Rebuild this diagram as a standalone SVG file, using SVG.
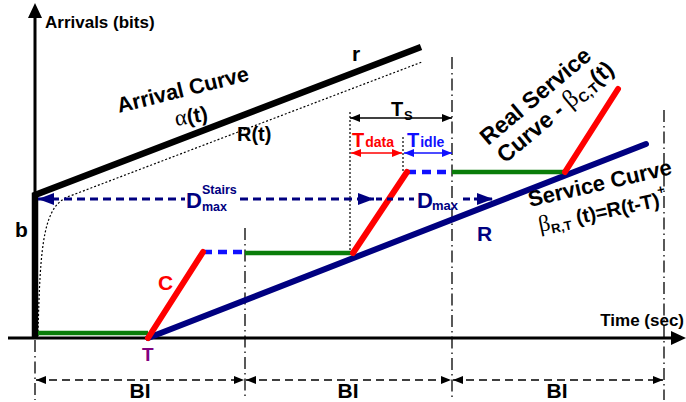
<svg xmlns="http://www.w3.org/2000/svg" width="686" height="402" viewBox="0 0 686 402">
<style>
text{font-family:"Liberation Sans",Arial,sans-serif;font-weight:bold;fill:#000}
.g{font-family:"Liberation Serif","Times New Roman",serif;font-weight:normal}
.dd{fill:none;stroke:#000;stroke-width:1.3;stroke-dasharray:12,4,1.5,4}
.dot{fill:none;stroke:#000;stroke-width:1.2;stroke-dasharray:2,2}
.bi{fill:none;stroke:#000;stroke-width:1.6;stroke-dasharray:8,5}
.nv{fill:#000080}
</style>
<defs>
<marker id="ak" viewBox="0 0 10 8" refX="10" refY="4" markerWidth="10" markerHeight="8" markerUnits="userSpaceOnUse" orient="auto-start-reverse"><path d="M0,0L10,4L0,8z" fill="#000"/></marker>
<marker id="ar" viewBox="0 0 10 8" refX="10" refY="4" markerWidth="10" markerHeight="8" markerUnits="userSpaceOnUse" orient="auto-start-reverse"><path d="M0,0L10,4L0,8z" fill="#ff0000"/></marker>
<marker id="ab" viewBox="0 0 10 8" refX="10" refY="4" markerWidth="10" markerHeight="8" markerUnits="userSpaceOnUse" orient="auto-start-reverse"><path d="M0,0L10,4L0,8z" fill="#1010ff"/></marker>
<marker id="an" viewBox="0 0 16 12" refX="16" refY="6" markerWidth="16" markerHeight="12" markerUnits="userSpaceOnUse" orient="auto-start-reverse"><path d="M0,0L16,6L0,12z" fill="#000080"/></marker>
</defs>

<g id="gridlines">
<path class="dd" d="M35,340V400"/>
<path class="dd" d="M245,228V400"/>
<path class="dd" d="M452,57V400"/>
<path class="dd" d="M664,110V400"/>
<path class="dot" d="M350,112V253"/>
<path class="dot" d="M403,137V172"/>
</g>

<g id="axes">
<path d="M35,338V17" stroke="#000" stroke-width="3"/>
<polygon points="35,3 28,18 42,18" fill="#000"/>
<path d="M8,338H672" stroke="#000" stroke-width="3"/>
<polygon points="686,338 671,331 671,345" fill="#000"/>
<text x="45" y="28" font-size="17">Arrivals (bits)</text>
<text x="684" y="326" font-size="17" text-anchor="end">Time (sec)</text>
</g>

<g id="arrival-curve">
<path d="M35,338V195L421,47" fill="none" stroke="#000" stroke-width="6.5" stroke-linejoin="miter"/>
<path class="dot" d="M38,336C40,240 44,205 70,196L422,62"/>
<text transform="translate(119,113) rotate(-14)" font-size="21.5">Arrival Curve</text>
<text transform="translate(176,126) rotate(-10)" font-size="21"><tspan class="g" font-size="23">α</tspan>(t)</text>
<text x="237" y="141" font-size="20">R(t)</text>
<text x="352" y="61" font-size="21">r</text>
<text x="15" y="237" font-size="21">b</text>
</g>

<g id="service-curve">
<path d="M148,338L646,144" stroke="#000080" stroke-width="6" stroke-linecap="round"/>
<text x="477" y="241" font-size="21" class="nv">R</text>
<text transform="translate(530,207) rotate(-13)" font-size="22">Service Curve</text>
<text transform="translate(540,232) rotate(-12)" font-size="20"><tspan class="g" font-size="23">β</tspan><tspan font-size="13" dy="4">R,T</tspan><tspan dy="-4"> (t)=R(t-T)</tspan><tspan font-size="13" dy="-12">+</tspan></text>
</g>

<g id="real-service-curve">
<path d="M38,333H148M245,253H353M452,172H565" stroke="#0a7d0a" stroke-width="4.5"/>
<path d="M203,252H245M407,172H452" stroke="#1010ff" stroke-width="4.5" stroke-dasharray="9,6"/>
<path d="M148,338L203,252M353,253L407,172M565,172L618,89" stroke="#ff0000" stroke-width="6" stroke-linecap="round"/>
<text x="158" y="290" font-size="21" style="fill:#ff0000">C</text>
<text x="142" y="361" font-size="19" style="fill:#800080">T</text>
<text transform="translate(488,146) rotate(-40)" font-size="23">Real Service</text>
<text transform="translate(505,164) rotate(-40)" font-size="23">Curve - <tspan class="g" font-size="25">β</tspan><tspan font-size="14" dy="4">C,T</tspan><tspan dy="-4">(t)</tspan></text>
</g>

<g id="connectors">
<path d="M350,118H452" stroke="#000" stroke-width="1.6" marker-start="url(#ak)" marker-end="url(#ak)"/>
<path d="M351,153H402" stroke="#ff0000" stroke-width="1.6" marker-start="url(#ar)" marker-end="url(#ar)"/>
<path d="M404,153H452" stroke="#1010ff" stroke-width="1.6" marker-start="url(#ab)" marker-end="url(#ab)"/>
<path d="M38,199H185" stroke="#000080" stroke-width="3" stroke-dasharray="8,5" marker-start="url(#an)"/>
<path d="M240,199H374" stroke="#000080" stroke-width="3" stroke-dasharray="8,5" marker-end="url(#an)"/>
<path d="M376,199H414" stroke="#000080" stroke-width="3" stroke-dasharray="6,5"/>
<path d="M463,199H493" stroke="#000080" stroke-width="3" stroke-dasharray="7,4" marker-end="url(#an)"/>
<path class="bi" d="M36,380H244" marker-start="url(#ak)" marker-end="url(#ak)"/>
<path class="bi" d="M246,380H451" marker-start="url(#ak)" marker-end="url(#ak)"/>
<path class="bi" d="M453,380H663" marker-start="url(#ak)" marker-end="url(#ak)"/>
</g>

<g id="labels">
<text x="391" y="116" font-size="20">T</text><text x="404" y="120" font-size="13">S</text>
<text x="352" y="147" font-size="20" style="fill:#ff0000">T<tspan font-size="14" dx="1">data</tspan></text>
<text x="407" y="147" font-size="20" style="fill:#1010ff">T<tspan font-size="14" dx="1">idle</tspan></text>
<text x="186" y="208" font-size="22" class="nv">D</text>
<text x="202" y="194" font-size="12.5" class="nv">Stairs</text>
<text x="202" y="211" font-size="12.5" class="nv">max</text>
<text x="417" y="208" font-size="22" class="nv">D</text>
<text x="432" y="210" font-size="13" class="nv">max</text>
<text x="140" y="398" font-size="21" text-anchor="middle">BI</text>
<text x="348" y="398" font-size="21" text-anchor="middle">BI</text>
<text x="557" y="398" font-size="21" text-anchor="middle">BI</text>
</g>
</svg>
